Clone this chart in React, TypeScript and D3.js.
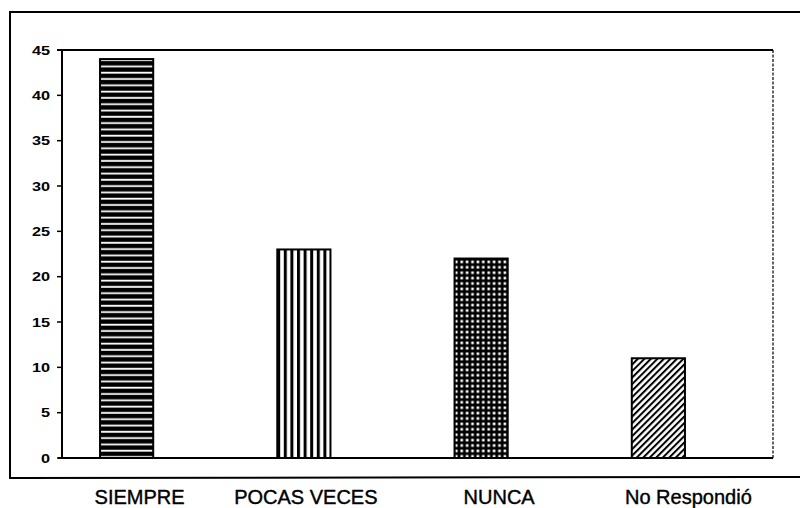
import React from 'react';
import * as d3 from 'd3';

// chart data
const categories = ['SIEMPRE', 'POCAS VECES', 'NUNCA', 'No Respondió'];
const values = [44, 23, 22, 11];
const patterns = ['hstripe', 'vstripe', 'grid', 'diag'];
const yTicks = [0, 5, 10, 15, 20, 25, 30, 35, 40, 45];

const W = 800;
const H = 508;

const App = () => {
  const plot = { left: 62, right: 773, top: 50, bottom: 458 };

  const y = d3.scaleLinear().domain([0, 45]).range([plot.bottom, plot.top]);
  const x = d3
    .scaleBand<string>()
    .domain(categories)
    .range([38, 747])
    .paddingInner(0.7)
    .paddingOuter(0.35);

  const font = '"Liberation Sans", Arial, sans-serif';

  return (
    <svg width={W} height={H} style={{ position: 'absolute', left: 0, top: 0, background: '#fff' }}>
      <defs>
        <pattern id="hstripe" patternUnits="userSpaceOnUse" width={8} height={6.3}>
          <rect width={8} height={6.3} fill="#000" />
          <rect y={2.5} width={8} height={1.8} fill="#fff" />
        </pattern>
        <pattern id="vstripe" patternUnits="userSpaceOnUse" width={6.6} height={8}>
          <rect width={6.6} height={8} fill="#fff" />
          <rect x={0} width={3} height={8} fill="#000" />
        </pattern>
        <pattern id="grid" patternUnits="userSpaceOnUse" width={5.4} height={5.4}>
          <rect width={5.4} height={5.4} fill="#000" />
          <rect x={1.4} y={1.4} width={2.6} height={2.6} fill="#fff" />
        </pattern>
        <pattern
          id="diag"
          patternUnits="userSpaceOnUse"
          width={4.6}
          height={4.6}
          patternTransform="rotate(45)"
        >
          <rect width={4.6} height={4.6} fill="#fff" />
          <rect width={2} height={4.6} fill="#000" />
        </pattern>
      </defs>

      {/* outer frame */}
      <path d="M800,12 L10,12 L10,478 L800,477" fill="none" stroke="#000" strokeWidth={2} />

      {/* plot area border */}
      <line x1={57} x2={plot.right} y1={plot.top} y2={plot.top} stroke="#000" strokeWidth={2} />
      <line
        x1={plot.right}
        x2={plot.right}
        y1={plot.top}
        y2={plot.bottom}
        stroke="#000"
        strokeWidth={1.2}
        strokeDasharray="3,1.5"
      />

      {/* bars */}
      {categories.map((c, i) => (
        <rect
          key={c}
          x={x(c)}
          y={y(values[i])}
          width={x.bandwidth()}
          height={y(0) - y(values[i])}
          fill={`url(#${patterns[i]})`}
          stroke="#000"
          strokeWidth={2}
        />
      ))}

      {/* y axis */}
      <line x1={plot.left} x2={plot.left} y1={plot.top} y2={plot.bottom} stroke="#000" strokeWidth={2} />
      {yTicks.map((t) => (
        <g key={t}>
          <line x1={plot.left - 5} x2={plot.left} y1={y(t)} y2={y(t)} stroke="#000" strokeWidth={1.5} />
          <text
            x={50}
            y={y(t)}
            dy="0.36em"
            textAnchor="end"
            fontFamily={font}
            fontWeight="bold"
            fontSize={13}
            transform={`translate(50,0) scale(1.25,1) translate(-50,0)`}
          >
            {t}
          </text>
        </g>
      ))}

      {/* x axis */}
      <line x1={plot.left - 4} x2={plot.right} y1={plot.bottom} y2={plot.bottom} stroke="#000" strokeWidth={2} />
      {categories.map((c, i) => (
        <text
          key={c}
          x={(x(c) ?? 0) + x.bandwidth() / 2 + [13, 2, 18, 30][i]}
          y={497}
          dy="0.35em"
          textAnchor="middle"
          fontFamily={font}
          fontSize={20}
          stroke="#000"
          strokeWidth={0.4}
        >
          {c}
        </text>
      ))}
    </svg>
  );
};

export default App;
